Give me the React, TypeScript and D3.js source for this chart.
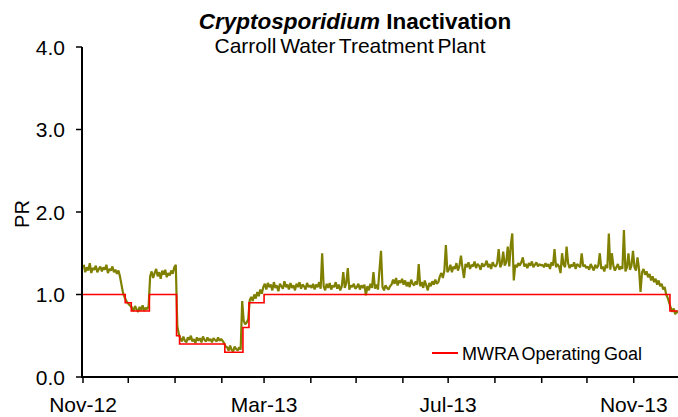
import React, { useEffect, useRef } from "react"
import * as d3 from "d3"

const W = 678
const H = 417

// daily PR readings, one array per month (Nov 2012 .. Nov 2013)
const nov12 = [1.36, 1.27, 1.33, 1.29, 1.38, 1.26, 1.32, 1.30, 1.35, 1.27, 1.31, 1.34, 1.28, 1.33, 1.30, 1.36, 1.26, 1.31, 1.29, 1.34, 1.27, 1.30, 1.25, 1.29, 1.22, 1.12, 1.02, 0.97, 0.93, 0.90]
const dec12 = [0.88, 0.86, 0.84, 0.80, 0.86, 0.82, 0.79, 0.85, 0.81, 0.87, 0.80, 0.84, 0.82, 0.86, 1.22, 1.28, 1.20, 1.26, 1.31, 1.22, 1.27, 1.19, 1.29, 1.24, 1.30, 1.21, 1.26, 1.23, 1.29, 1.25, 1.33]
const jan13 = [1.36, 0.62, 0.52, 0.47, 0.43, 0.49, 0.44, 0.42, 0.48, 0.45, 0.50, 0.43, 0.46, 0.41, 0.48, 0.44, 0.47, 0.42, 0.49, 0.45, 0.43, 0.48, 0.44, 0.46, 0.42, 0.47, 0.45, 0.43, 0.48, 0.44, 0.46]
const feb13 = [0.44, 0.41, 0.37, 0.36, 0.32, 0.38, 0.33, 0.31, 0.37, 0.34, 0.32, 0.36, 0.33, 0.92, 0.68, 0.64, 0.66, 0.70, 0.93, 0.97, 0.92, 1.00, 0.95, 1.03, 0.98, 1.06, 1.01, 1.09]
const mar13 = [1.13, 1.06, 1.14, 1.09, 1.12, 1.05, 1.15, 1.08, 1.11, 1.04, 1.13, 1.10, 1.07, 1.16, 1.09, 1.12, 1.06, 1.14, 1.08, 1.11, 1.05, 1.13, 1.09, 1.15, 1.07, 1.12, 1.10, 1.06, 1.14, 1.09, 1.11]
const apr13 = [1.08, 1.13, 1.06, 1.12, 1.09, 1.15, 1.07, 1.50, 1.10, 1.05, 1.13, 1.08, 1.14, 1.06, 1.11, 1.09, 1.15, 1.07, 1.12, 1.05, 1.10, 1.27, 1.08, 1.14, 1.32, 1.06, 1.11, 1.09, 1.13, 1.07]
const may13 = [1.09, 1.13, 1.06, 1.11, 1.08, 1.12, 0.99, 1.10, 1.05, 1.13, 1.08, 1.27, 1.07, 1.12, 1.06, 1.30, 1.53, 1.09, 1.05, 1.11, 1.08, 1.06, 1.10, 1.12, 1.18, 1.13, 1.20, 1.11, 1.17, 1.14, 1.19]
const jun13 = [1.12, 1.17, 1.10, 1.15, 1.09, 1.18, 1.13, 1.11, 1.16, 1.12, 1.37, 1.10, 1.15, 1.08, 1.17, 1.11, 1.05, 1.14, 1.10, 1.16, 1.12, 1.18, 1.13, 1.15, 1.22, 1.26, 1.20, 1.29, 1.60, 1.27]
const jul13 = [1.30, 1.36, 1.27, 1.34, 1.31, 1.38, 1.29, 1.35, 1.47, 1.32, 1.20, 1.37, 1.33, 1.39, 1.31, 1.36, 1.34, 1.40, 1.32, 1.37, 1.35, 1.30, 1.38, 1.34, 1.36, 1.41, 1.33, 1.37, 1.31, 1.39, 1.35]
const aug13 = [1.34, 1.38, 1.55, 1.33, 1.37, 1.52, 1.35, 1.39, 1.58, 1.34, 1.60, 1.74, 1.17, 1.36, 1.33, 1.38, 1.35, 1.39, 1.45, 1.34, 1.37, 1.32, 1.38, 1.35, 1.40, 1.33, 1.36, 1.39, 1.34, 1.37, 1.35]
const sep13 = [1.36, 1.33, 1.38, 1.34, 1.37, 1.31, 1.39, 1.35, 1.55, 1.33, 1.37, 1.34, 1.26, 1.50, 1.36, 1.33, 1.58, 1.38, 1.32, 1.36, 1.34, 1.39, 1.31, 1.37, 1.35, 1.33, 1.50, 1.34, 1.36, 1.32]
const oct13 = [1.34, 1.30, 1.37, 1.33, 1.29, 1.36, 1.32, 1.35, 1.50, 1.31, 1.34, 1.28, 1.36, 1.32, 1.74, 1.30, 1.50, 1.35, 1.29, 1.33, 1.37, 1.30, 1.34, 1.31, 1.78, 1.28, 1.33, 1.50, 1.30, 1.35, 1.53]
const nov13 = [1.33, 1.29, 1.45, 1.31, 1.03, 1.27, 1.31, 1.24, 1.28, 1.21, 1.25, 1.17, 1.22, 1.15, 1.19, 1.12, 1.17, 1.10, 1.13, 1.06, 1.09, 1.00, 0.96, 0.90, 0.84, 0.79, 0.83, 0.76, 0.80, 0.78]
const prMonths = [nov12, dec12, jan13, feb13, mar13, apr13, may13, jun13, jul13, aug13, sep13, oct13, nov13]

// MWRA operating goal (step changes)
const goalDates = ["2012-11-01", "2012-11-29", "2012-12-03", "2012-12-15", "2013-01-02", "2013-01-04", "2013-02-03", "2013-02-15", "2013-02-19", "2013-03-01", "2013-11-25", "2013-11-30"]
const goalValues = [1.0, 0.9, 0.8, 1.0, 0.5, 0.4, 0.3, 0.6, 0.9, 1.0, 0.8, 0.8]

const yTicks = [0, 1, 2, 3, 4]
const xLabelDates = ["2012-11-01", "2013-03-01", "2013-07-01", "2013-11-01"]
const xLabels = ["Nov-12", "Mar-13", "Jul-13", "Nov-13"]

const FONT = "'Liberation Sans', Arial, sans-serif"

const App = () => {
  const svgRef = useRef<SVGSVGElement>(null)

  useEffect(() => {
    if (!svgRef.current) return
    const svg = d3.select(svgRef.current)
    svg.selectAll("*").remove()

    const start = new Date(Date.UTC(2012, 10, 1))
    const x = d3.scaleUtc()
      .domain([start, new Date(Date.UTC(2013, 11, 1))])
      .range([83, 679])
    const y = d3.scaleLinear().domain([0, 4]).range([377, 47])

    const pr = prMonths.flat().map((v, i) => ({
      date: d3.utcHour.offset(d3.utcDay.offset(start, i), 12),
      value: v,
    }))
    const goal = goalDates.map((d, i) => ({ date: new Date(d + "T00:00:00Z"), value: goalValues[i] }))

    // PR line
    svg.append("path")
      .datum(pr)
      .attr("fill", "none")
      .attr("stroke", "#808000")
      .attr("stroke-width", 2.2)
      .attr("stroke-linejoin", "bevel")
      .attr("d", d3.line<any>().x(d => x(d.date)).y(d => y(d.value)))

    // goal line
    svg.append("path")
      .datum(goal)
      .attr("fill", "none")
      .attr("stroke", "#ff0000")
      .attr("stroke-width", 1.6)
      .attr("d", d3.line<any>().curve(d3.curveStepAfter).x(d => x(d.date)).y(d => y(d.value)))

    // y axis
    const yg = svg.append("g")
    yg.append("line")
      .attr("x1", 82).attr("x2", 82).attr("y1", y(4)).attr("y2", y(0) + 1)
      .attr("stroke", "#000").attr("stroke-width", 2)
    yTicks.forEach(t => {
      yg.append("line")
        .attr("x1", 76).attr("x2", 82).attr("y1", y(t)).attr("y2", y(t))
        .attr("stroke", "#000").attr("stroke-width", 1.5)
      yg.append("text")
        .attr("x", 65).attr("y", y(t)).attr("dy", "0.36em")
        .attr("text-anchor", "end")
        .attr("font-family", FONT).attr("font-size", 21)
        .attr("fill", "#000")
        .text(d3.format(".1f")(t))
    })

    // x axis
    const xg = svg.append("g")
    xg.append("line")
      .attr("x1", 81).attr("x2", W).attr("y1", 377).attr("y2", 377)
      .attr("stroke", "#000").attr("stroke-width", 2)
    d3.utcMonth.range(start, new Date(Date.UTC(2013, 11, 2))).forEach(m => {
      xg.append("line")
        .attr("x1", x(m)).attr("x2", x(m)).attr("y1", 377).attr("y2", 383)
        .attr("stroke", "#000").attr("stroke-width", 1.5)
    })
    xLabelDates.forEach((d, i) => {
      xg.append("text")
        .attr("x", x(new Date(d + "T00:00:00Z"))).attr("y", 412)
        .attr("text-anchor", "middle")
        .attr("font-family", FONT).attr("font-size", 21)
        .attr("fill", "#000")
        .text(xLabels[i])
    })

    // y label
    svg.append("text")
      .attr("transform", "translate(29, 214) rotate(-90)")
      .attr("text-anchor", "middle")
      .attr("font-family", FONT).attr("font-size", 20)
      .attr("fill", "#000")
      .text("PR")

    // titles
    const title = svg.append("text")
      .attr("x", 355).attr("y", 29)
      .attr("text-anchor", "middle")
      .attr("font-family", FONT).attr("font-size", 22.5).attr("font-weight", "bold")
      .attr("fill", "#000")
    title.append("tspan").attr("font-style", "italic").text("Cryptosporidium")
    title.append("tspan").text(" Inactivation")

    svg.append("text")
      .attr("x", 350).attr("y", 53)
      .attr("text-anchor", "middle")
      .attr("font-family", FONT).attr("font-size", 21)
      .attr("word-spacing", -2)
      .attr("fill", "#000")
      .text("Carroll Water Treatment Plant")

    // legend
    svg.append("line")
      .attr("x1", 432).attr("x2", 458).attr("y1", 353).attr("y2", 353)
      .attr("stroke", "#ff0000").attr("stroke-width", 2)
    svg.append("text")
      .attr("x", 462).attr("y", 360)
      .attr("font-family", FONT).attr("font-size", 18)
      .attr("word-spacing", -1.5)
      .attr("fill", "#000")
      .text("MWRA Operating Goal")
  }, [])

  return (
    <svg
      ref={svgRef}
      width={W}
      height={H}
      style={{ position: "absolute", left: 0, top: 0, background: "#fff" }}
    />
  )
}

export default App
